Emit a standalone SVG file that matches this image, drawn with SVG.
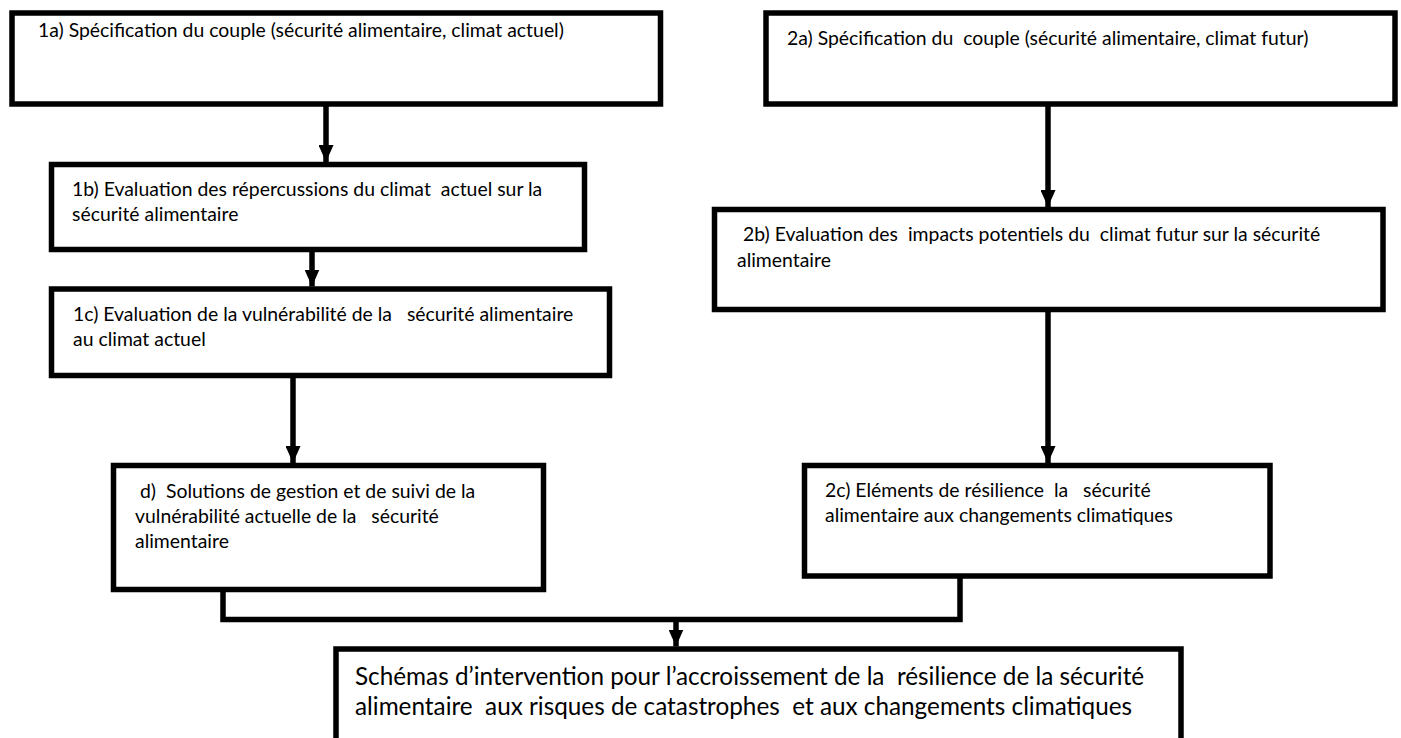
<svg xmlns="http://www.w3.org/2000/svg" width="1401" height="738" viewBox="0 0 1401 738">
<defs>
<style>
.box{fill:#fff;stroke:#000;stroke-width:5.5}
.t{font-family:Lato,"Open Sans","Liberation Sans",sans-serif;font-size:19.4px;fill:#000;white-space:pre}
.tb{font-family:Lato,"Open Sans","Liberation Sans",sans-serif;font-size:24.3px;fill:#000;white-space:pre}
.ln{fill:none;stroke:#000;stroke-width:5.5;stroke-linejoin:miter}
</style>
<marker id="ah" viewBox="0 0 17 15" refX="17" refY="7.5" markerWidth="17" markerHeight="15" markerUnits="userSpaceOnUse" orient="auto">
<path d="M0,0 L17,7.5 L0,15 Z" fill="#000"/>
</marker>
</defs>
<rect width="1401" height="738" fill="#fff"/>
<g id="connectors">
<line class="ln" x1="326" y1="104" x2="326" y2="162" marker-end="url(#ah)"/>
<line class="ln" x1="312" y1="249.5" x2="312" y2="286.5" marker-end="url(#ah)"/>
<line class="ln" x1="293" y1="375.5" x2="293" y2="463" marker-end="url(#ah)"/>
<line class="ln" x1="1048" y1="104" x2="1048" y2="207" marker-end="url(#ah)"/>
<line class="ln" x1="1048" y1="309.5" x2="1048" y2="463" marker-end="url(#ah)"/>
<path class="ln" d="M223,589.5 V619.5 H960 V576"/>
<line class="ln" x1="676" y1="619.5" x2="676" y2="646.5" marker-end="url(#ah)"/>
</g>
<g id="n1a">
<rect class="box" x="12" y="13" width="648.5" height="91"/>
<text class="t" x="38" y="37">1a) Spécification du couple (sécurité alimentaire, climat actuel)</text>
</g>
<g id="n2a">
<rect class="box" x="766" y="13" width="629" height="91"/>
<text class="t" x="787" y="45">2a) Spécification du  couple (sécurité alimentaire, climat futur)</text>
</g>
<g id="n1b">
<rect class="box" x="51.5" y="164.5" width="533" height="85"/>
<text class="t" x="72" y="196">1b) Evaluation des répercussions du climat  actuel sur la</text>
<text class="t" x="72" y="221">sécurité alimentaire</text>
</g>
<g id="n1c">
<rect class="box" x="51.5" y="289" width="558" height="86.5"/>
<text class="t" x="73" y="321">1c) Evaluation de la vulnérabilité de la   sécurité alimentaire</text>
<text class="t" x="73" y="346">au climat actuel</text>
</g>
<g id="nd">
<rect class="box" x="113.5" y="465.5" width="430" height="124"/>
<text class="t" x="140" y="498">d)  Solutions de gestion et de suivi de la</text>
<text class="t" x="135" y="523">vulnérabilité actuelle de la   sécurité</text>
<text class="t" x="135" y="548">alimentaire</text>
</g>
<g id="n2b">
<rect class="box" x="714.5" y="209.5" width="668.5" height="100"/>
<text class="t" x="743" y="241">2b) Evaluation des  impacts potentiels du  climat futur sur la sécurité</text>
<text class="t" x="737" y="267">alimentaire</text>
</g>
<g id="n2c">
<rect class="box" x="804.5" y="465.5" width="465.5" height="110.5"/>
<text class="t" x="825" y="497">2c) Eléments de résilience  la   sécurité</text>
<text class="t" x="825" y="522">alimentaire aux changements climatiques</text>
</g>
<g id="nfinal">
<rect class="box" x="336" y="649" width="845" height="120"/>
<text class="tb" x="355" y="685">Schémas d’intervention pour l’accroissement de la  résilience de la sécurité</text>
<text class="tb" x="355" y="715">alimentaire  aux risques de catastrophes  et aux changements climatiques</text>
</g>
</svg>
